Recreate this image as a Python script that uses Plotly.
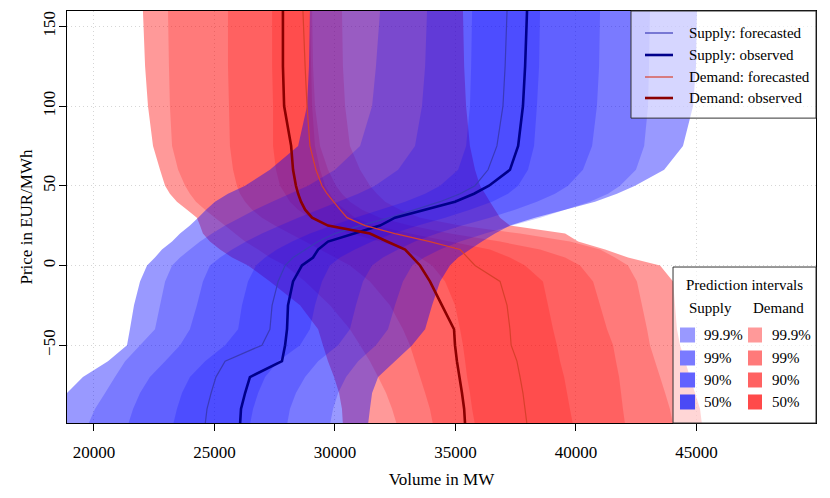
import plotly.graph_objects as go

# price grid (EUR/MWh) shared by every curve
price = [-100, -90, -80, -70, -60, -50, -40, -25, -10, 0, 5, 10, 15, 20, 25,
         30, 35, 40, 45, 50, 60, 75, 100, 125, 160]

# supply curves, volume in MW at each price
supply_forecast = [24610, 24690, 24860, 25060, 25440, 26970, 27300, 27390, 27640, 27930, 28260, 28760, 29300,
                   30000, 31040, 32280, 33320, 34360, 35190, 35810, 36350, 36720, 36970, 37060, 37140]
supply_observed = [26060, 26100, 26270, 26470, 27800, 27930, 28010, 28050, 28260, 28630, 29090, 29300, 29710,
                   30750, 31870, 32490, 33740, 34980, 35770, 36390, 37260, 37600, 37800, 37890, 37970]
supply_lo999 = [18170, 18510, 18880, 19540, 20580, 21370, 21490, 21660, 21910, 22200, 22530, 22820, 23240,
                23570, 23980, 24320, 24650, 25020, 25560, 26270, 27300, 28470, 28840, 28920, 28960]
supply_lo99 = [19750, 20040, 20460, 20870, 21290, 21910, 22530, 22740, 22950, 23240, 23570, 23980, 24400,
               24900, 25440, 26060, 26680, 27390, 28130, 28880, 30000, 31040, 31540, 31700, 31870]
supply_lo90 = [21410, 21620, 21910, 22320, 22950, 23570, 23980, 24270, 24520, 24810, 25230, 25730, 26310,
               26970, 27720, 28470, 29300, 30130, 30960, 31660, 32620, 33320, 33610, 33740, 33820]
supply_lo50 = [23280, 23440, 23650, 23980, 24610, 25440, 25980, 26140, 26390, 26720, 27100, 27590, 28220,
               28960, 29880, 30830, 31870, 32910, 33740, 34360, 35110, 35440, 35600, 35650, 35690]
supply_hi50 = [26470, 26600, 26810, 27100, 27640, 28550, 28960, 29170, 29460, 29790, 30210, 30830, 31540,
               32410, 33450, 34570, 35600, 36520, 37180, 37600, 38010, 38260, 38380, 38470, 38510]
supply_hi90 = [28010, 28130, 28380, 28760, 29300, 30130, 30620, 30870, 31160, 31540, 31990, 32620, 33320,
               34230, 35270, 36430, 37470, 38380, 39130, 39670, 40290, 40670, 40870, 40960, 41000]
supply_hi99 = [29790, 29920, 30130, 30460, 30960, 31700, 32200, 32490, 32820, 33200, 33700, 34360, 35190,
               36230, 37350, 38510, 39550, 40580, 41330, 41830, 42490, 42830, 42990, 43030, 43070]
supply_hi999 = [31370, 31450, 31540, 31790, 32490, 33200, 33740, 34030, 34360, 34770, 35110, 35600, 36100,
                36640, 37260, 38300, 39550, 40790, 41700, 42450, 43660, 44440, 44860, 44980, 45020]

# demand curves, volume in MW at each price
demand_forecast = [37970, 37890, 37800, 37680, 37550, 37310, 37260, 37140, 36850, 35810, 35480, 35190, 33940,
                   32490, 31250, 30500, 30210, 29920, 29670, 29460, 29210, 28960, 28840, 28760, 28670]
demand_observed = [35400, 35360, 35270, 35150, 35060, 34980, 34940, 34440, 33940, 33530, 33240, 32910, 32160,
                   31450, 29710, 29050, 28760, 28590, 28470, 28380, 28260, 28180, 27890, 27840, 27840]
demand_lo999 = [30330, 30290, 30170, 29960, 29710, 29500, 29300, 28550, 27300, 26390, 25730, 25230, 24810,
                24520, 24400, 24270, 23860, 23440, 23150, 22950, 22740, 22450, 22240, 22120, 22030]
demand_lo99 = [32570, 32370, 32120, 31790, 31450, 31040, 30620, 29790, 28760, 27930, 27300, 26810, 26270,
               25850, 25440, 25020, 24610, 24230, 23980, 23780, 23490, 23240, 23150, 23110, 23070]
demand_lo90 = [34070, 33940, 33740, 33530, 33320, 33110, 32820, 32280, 31450, 30620, 30000, 29380, 28760,
               28130, 27510, 26970, 26560, 26270, 26060, 25930, 25770, 25640, 25600, 25560, 25560]
demand_lo50 = [35810, 35690, 35600, 35480, 35400, 35310, 35190, 34980, 34570, 34030, 33530, 32910, 31870,
               30620, 29590, 28960, 28470, 28130, 27930, 27720, 27550, 27430, 27430, 27390, 27390]
demand_hi50 = [39880, 39750, 39630, 39510, 39340, 39210, 39050, 38840, 38630, 37890, 37260, 36430, 34770,
               33110, 31660, 30830, 30420, 30000, 29790, 29590, 29380, 29170, 29050, 29010, 28960]
demand_hi90 = [42040, 41950, 41870, 41790, 41660, 41540, 41290, 41000, 40710, 40170, 39550, 38510, 36850,
               34770, 33110, 31870, 31120, 30620, 30290, 30040, 29710, 29380, 29170, 29090, 29050]
demand_hi99 = [44030, 43900, 43700, 43490, 43280, 43070, 42950, 42740, 42530, 42160, 41620, 41000, 39750,
               37680, 35190, 33530, 32700, 32080, 31740, 31450, 31040, 30620, 30420, 30330, 30290]
demand_hi999 = [45230, 45150, 44940, 44730, 44530, 44320, 44190, 44110, 44030, 43490, 42160, 41210, 40090,
                39550, 37260, 36850, 36640, 36430, 36230, 36020, 35810, 35600, 35440, 35360, 35310]

levels = ["99.9%", "99%", "90%", "50%"]
x_ticks = [20000, 25000, 30000, 35000, 40000, 45000]
y_ticks = [-50, 0, 50, 100, 150]

FONT = "Liberation Serif, Times New Roman, serif"
# first band alpha 0.4, inner bands 0.2 each (stacked)
blue_fill = ["rgba(0,0,255,0.4)", "rgba(0,0,255,0.2)", "rgba(0,0,255,0.2)", "rgba(0,0,255,0.2)"]
red_fill = ["rgba(255,0,0,0.4)", "rgba(255,0,0,0.2)", "rgba(255,0,0,0.2)", "rgba(255,0,0,0.2)"]
# what the stacked fills look like, for the legend boxes
blue_key = ["rgb(153,153,255)", "rgb(122,122,255)", "rgb(98,98,255)", "rgb(74,74,245)"]
red_key = ["rgb(255,153,153)", "rgb(255,122,122)", "rgb(255,98,98)", "rgb(255,74,74)"]

fig = go.Figure()


def add_band(lo, hi, color):
    fig.add_trace(go.Scatter(x=lo + hi[::-1], y=price + price[::-1], fill="toself",
                             fillcolor=color, mode="none", hoverinfo="skip", showlegend=False))


demand_bands = [(demand_lo999, demand_hi999), (demand_lo99, demand_hi99),
                (demand_lo90, demand_hi90), (demand_lo50, demand_hi50)]
supply_bands = [(supply_lo999, supply_hi999), (supply_lo99, supply_hi99),
                (supply_lo90, supply_hi90), (supply_lo50, supply_hi50)]

for (lo, hi), col in zip(demand_bands, red_fill):
    add_band(lo, hi, col)
for (lo, hi), col in zip(supply_bands, blue_fill):
    add_band(lo, hi, col)

lines = [
    ("Supply: forecasted", supply_forecast, "#3a3ab8", 1.2),
    ("Supply: observed", supply_observed, "#00008b", 2.6),
    ("Demand: forecasted", demand_forecast, "#d8402c", 1.2),
    ("Demand: observed", demand_observed, "#8b0000", 2.6),
]
for name, vals, col, w in lines:
    fig.add_trace(go.Scatter(x=vals, y=price, mode="lines", name=name,
                             line=dict(color=col, width=w), showlegend=False))

shapes = []
annots = []

# legend for the curves (top right)
shapes.append(dict(type="rect", xref="paper", yref="paper", x0=0.753, x1=1.0, y0=0.740, y1=1.0,
                   fillcolor="rgba(255,255,255,0.6)", line=dict(color="#333333", width=1), layer="above"))
row_y = [0.9466, 0.8932, 0.8398, 0.7888]
for (name, vals, col, w), ry in zip(lines, row_y):
    shapes.append(dict(type="line", xref="paper", yref="paper", x0=0.7717, x1=0.8091, y0=ry, y1=ry,
                       line=dict(color=col, width=w), layer="above"))
    annots.append(dict(text=name, xref="paper", yref="paper", x=0.8278, y=ry, xanchor="left",
                       yanchor="middle", showarrow=False, font=dict(family=FONT, size=15, color="black")))

# legend for the prediction intervals (bottom right)
shapes.append(dict(type="rect", xref="paper", yref="paper", x0=0.8091, x1=1.0, y0=0.0, y1=0.3786,
                   fillcolor="rgba(255,255,255,0.6)", line=dict(color="#333333", width=1), layer="above"))
annots.append(dict(text="Prediction intervals", xref="paper", yref="paper", x=0.9052, y=0.335,
                   xanchor="center", yanchor="middle", showarrow=False,
                   font=dict(family=FONT, size=15, color="black")))
annots.append(dict(text="Supply", xref="paper", yref="paper", x=0.8598, y=0.2791, xanchor="center",
                   yanchor="middle", showarrow=False, font=dict(family=FONT, size=15, color="black")))
annots.append(dict(text="Demand", xref="paper", yref="paper", x=0.9493, y=0.2791, xanchor="center",
                   yanchor="middle", showarrow=False, font=dict(family=FONT, size=15, color="black")))
key_y = [0.2136, 0.1578, 0.1044, 0.0510]
for lab, ky, bc, rc in zip(levels, key_y, blue_key, red_key):
    shapes.append(dict(type="rect", xref="paper", yref="paper", x0=0.8184, x1=0.8385,
                       y0=ky - 0.0182, y1=ky + 0.0182, fillcolor=bc, line=dict(width=0), layer="above"))
    shapes.append(dict(type="rect", xref="paper", yref="paper", x0=0.9092, x1=0.9279,
                       y0=ky - 0.0182, y1=ky + 0.0182, fillcolor=rc, line=dict(width=0), layer="above"))
    annots.append(dict(text=lab, xref="paper", yref="paper", x=0.8478, y=ky, xanchor="left",
                       yanchor="middle", showarrow=False, font=dict(family=FONT, size=15, color="black")))
    annots.append(dict(text=lab, xref="paper", yref="paper", x=0.9386, y=ky, xanchor="left",
                       yanchor="middle", showarrow=False, font=dict(family=FONT, size=15, color="black")))

# the page body adds an 8px offset, so the figure is 8px smaller with tighter left/top margins
fig.update_layout(
    width=822, height=490,
    margin=dict(l=59, r=14, t=3, b=75, autoexpand=False),
    plot_bgcolor="white", paper_bgcolor="white",
    font=dict(family=FONT, size=17, color="black"),
    showlegend=False,
    shapes=shapes, annotations=annots,
)
fig.update_xaxes(
    range=[18880, 49960], tickvals=x_ticks, ticktext=[str(v) for v in x_ticks],
    automargin=False,
    showline=True, mirror=True, linecolor="black", linewidth=1,
    ticks="outside", ticklen=7, tickcolor="black", ticklabelstandoff=7,
    showgrid=True, gridcolor="#d6d6d6", griddash="1px,3px", gridwidth=1, zeroline=False,
    title=dict(text="Volume in MW", standoff=11, font=dict(family=FONT, size=17)),
)
fig.update_yaxes(
    range=[-98.8, 159.6], tickvals=y_ticks, ticktext=[str(v).replace("-", "\u2212") for v in y_ticks],
    tickangle=-90, automargin=False,
    showline=True, mirror=True, linecolor="black", linewidth=1,
    ticks="outside", ticklen=7, tickcolor="black", ticklabelstandoff=-3,
    showgrid=True, gridcolor="#d6d6d6", griddash="1px,3px", gridwidth=1, zeroline=False,
    title=dict(text="Price in EUR/MWh", standoff=3, font=dict(family=FONT, size=17)),
)

fig.write_html("out.html")
